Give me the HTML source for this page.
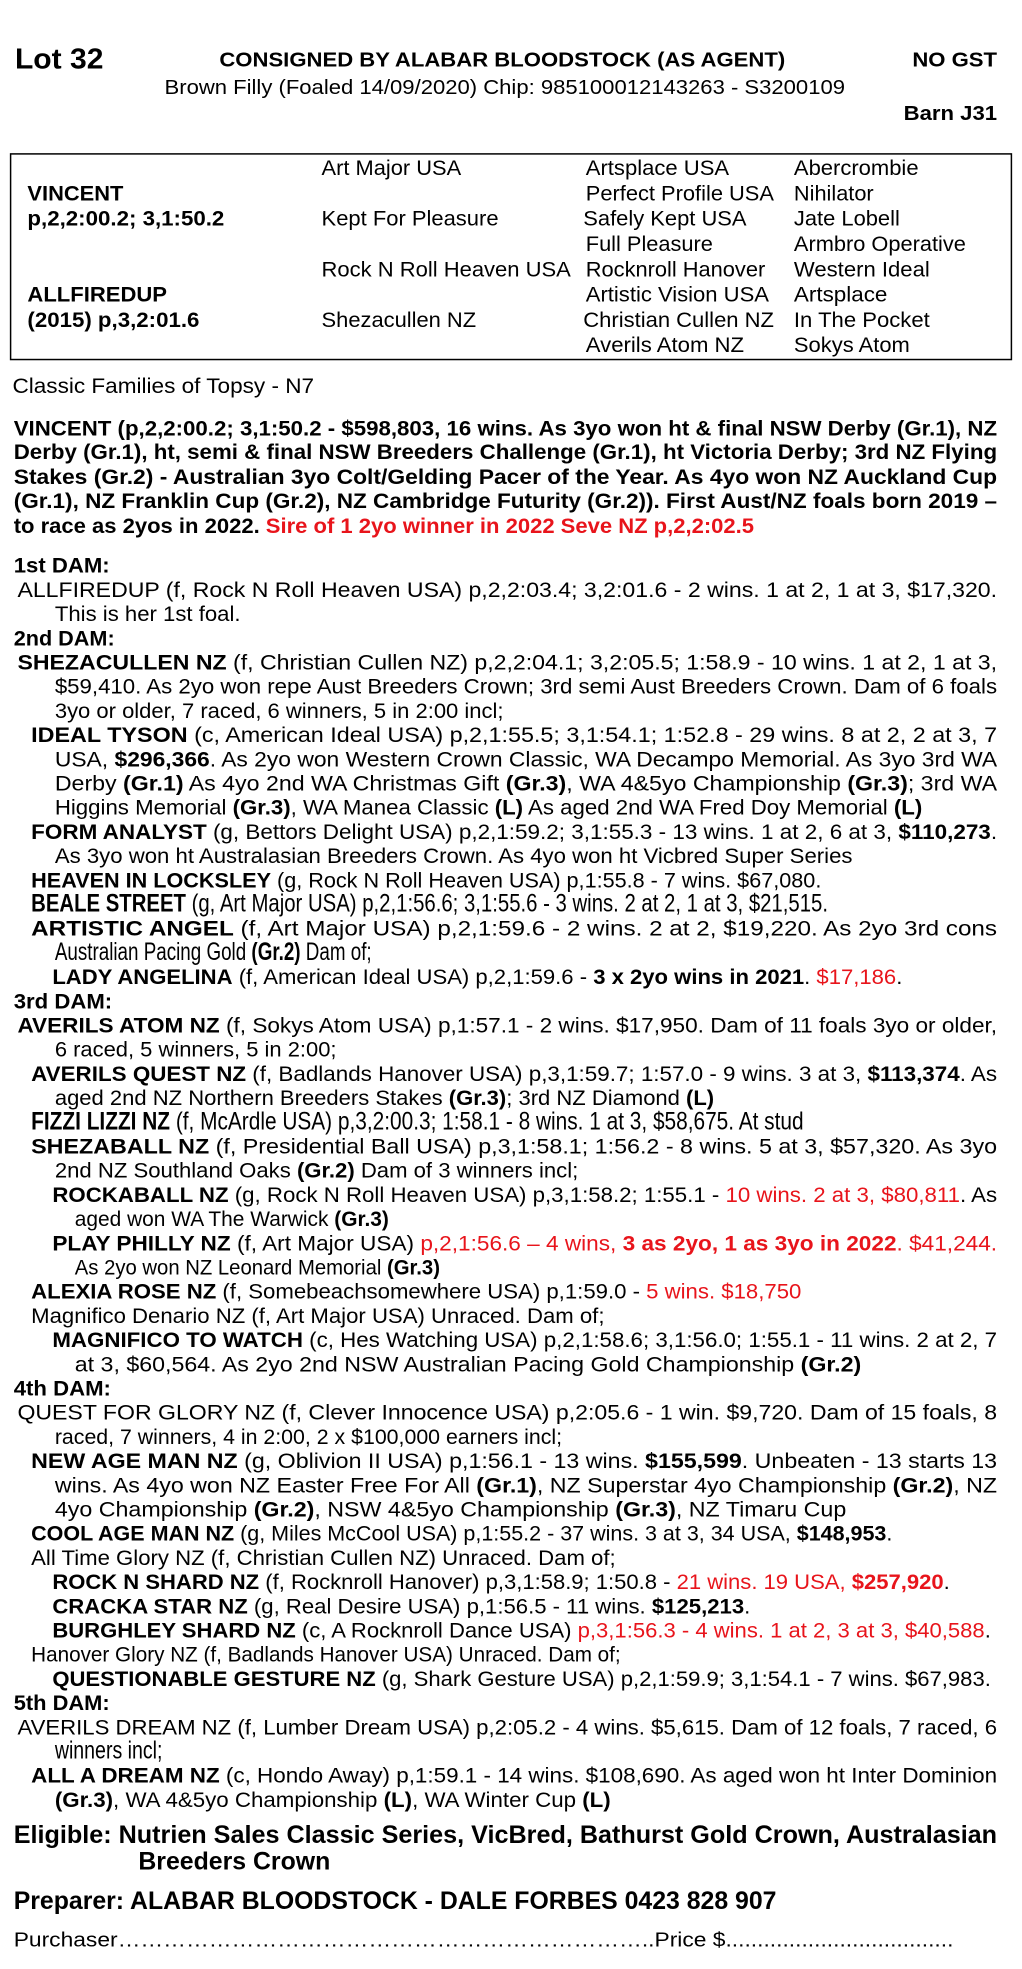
<!DOCTYPE html>
<html><head><meta charset="utf-8">
<style>
html,body{margin:0;padding:0;background:#fff;}
svg{display:block;}
text{font-family:"Liberation Sans",Arial,sans-serif;font-size:17px;fill:#000;}
.b{font-weight:bold;}
.r{fill:#e8141b;}
.big{font-size:20.4px;}
</style></head>
<body>
<svg width="1022" height="1969" viewBox="0 0 820 1580" preserveAspectRatio="none" xmlns="http://www.w3.org/2000/svg">
<g>
<text x="12" y="55" class="b" style="font-size:23px" textLength="71" lengthAdjust="spacingAndGlyphs">Lot 32</text>
<text x="176" y="53.5" class="b" style="font-size:16.5px" textLength="454" lengthAdjust="spacingAndGlyphs">CONSIGNED BY ALABAR BLOODSTOCK (AS AGENT)</text>
<text x="732" y="53.5" class="b" style="font-size:16.5px" textLength="68" lengthAdjust="spacingAndGlyphs">NO GST</text>
<text x="132" y="75.5" style="font-size:16.5px" textLength="546" lengthAdjust="spacingAndGlyphs">Brown Filly (Foaled 14/09/2020) Chip: 985100012143263 - S3200109</text>
<text x="725" y="96.5" class="b" style="font-size:16.5px" textLength="75" lengthAdjust="spacingAndGlyphs">Barn J31</text>

<rect x="8.5" y="123.5" width="803" height="165" fill="none" stroke="#000" stroke-width="1.2"/>
<text x="258" y="140.5" textLength="112" lengthAdjust="spacingAndGlyphs">Art Major USA</text>
<text x="470" y="140.5" textLength="115" lengthAdjust="spacingAndGlyphs">Artsplace USA</text>
<text x="637" y="140.5" textLength="100" lengthAdjust="spacingAndGlyphs">Abercrombie</text>
<text x="22" y="160.8" class="b" textLength="77" lengthAdjust="spacingAndGlyphs">VINCENT</text>
<text x="470" y="160.8" textLength="151" lengthAdjust="spacingAndGlyphs">Perfect Profile USA</text>
<text x="637" y="160.8" textLength="64" lengthAdjust="spacingAndGlyphs">Nihilator</text>
<text x="22" y="181.1" class="b" textLength="158" lengthAdjust="spacingAndGlyphs">p,2,2:00.2; 3,1:50.2</text>
<text x="258" y="181.1" textLength="142" lengthAdjust="spacingAndGlyphs">Kept For Pleasure</text>
<text x="468" y="181.1" textLength="131" lengthAdjust="spacingAndGlyphs">Safely Kept USA</text>
<text x="637" y="181.1" textLength="85" lengthAdjust="spacingAndGlyphs">Jate Lobell</text>
<text x="470" y="201.4" textLength="102" lengthAdjust="spacingAndGlyphs">Full Pleasure</text>
<text x="637" y="201.4" textLength="138" lengthAdjust="spacingAndGlyphs">Armbro Operative</text>
<text x="258" y="221.7" textLength="200" lengthAdjust="spacingAndGlyphs">Rock N Roll Heaven USA</text>
<text x="470" y="221.7" textLength="144" lengthAdjust="spacingAndGlyphs">Rocknroll Hanover</text>
<text x="637" y="221.7" textLength="109" lengthAdjust="spacingAndGlyphs">Western Ideal</text>
<text x="22" y="242" class="b" textLength="112" lengthAdjust="spacingAndGlyphs">ALLFIREDUP</text>
<text x="470" y="242" textLength="147" lengthAdjust="spacingAndGlyphs">Artistic Vision USA</text>
<text x="637" y="242" textLength="75" lengthAdjust="spacingAndGlyphs">Artsplace</text>
<text x="22" y="262.3" class="b" textLength="138" lengthAdjust="spacingAndGlyphs">(2015) p,3,2:01.6</text>
<text x="258" y="262.3" textLength="124" lengthAdjust="spacingAndGlyphs">Shezacullen NZ</text>
<text x="468" y="262.3" textLength="153" lengthAdjust="spacingAndGlyphs">Christian Cullen NZ</text>
<text x="637" y="262.3" textLength="109" lengthAdjust="spacingAndGlyphs">In The Pocket</text>
<text x="470" y="282.6" textLength="127" lengthAdjust="spacingAndGlyphs">Averils Atom NZ</text>
<text x="637" y="282.6" textLength="93" lengthAdjust="spacingAndGlyphs">Sokys Atom</text>

<text x="10" y="315.5" textLength="242" lengthAdjust="spacingAndGlyphs">Classic Families of Topsy - N7</text>

<text x="11" y="349.5" class="b" textLength="789" lengthAdjust="spacingAndGlyphs">VINCENT (p,2,2:00.2; 3,1:50.2 - $598,803, 16 wins. As 3yo won ht &amp; final NSW Derby (Gr.1), NZ</text>
<text x="11" y="368.5" class="b" textLength="789" lengthAdjust="spacingAndGlyphs">Derby (Gr.1), ht, semi &amp; final NSW Breeders Challenge (Gr.1), ht Victoria Derby; 3rd NZ Flying</text>
<text x="11" y="388.5" class="b" textLength="789" lengthAdjust="spacingAndGlyphs">Stakes (Gr.2) - Australian 3yo Colt/Gelding Pacer of the Year. As 4yo won NZ Auckland Cup</text>
<text x="11" y="407.5" class="b" textLength="789" lengthAdjust="spacingAndGlyphs">(Gr.1), NZ Franklin Cup (Gr.2), NZ Cambridge Futurity (Gr.2)). First Aust/NZ foals born 2019 –</text>
<text x="11" y="427.5" class="b" textLength="594" lengthAdjust="spacingAndGlyphs">to race as 2yos in 2022. <tspan class="r">Sire of 1 2yo winner in 2022 Seve NZ p,2,2:02.5</tspan></text>

<text x="11" y="459.5" class="b" textLength="77" lengthAdjust="spacingAndGlyphs">1st DAM:</text>
<text x="14" y="478.9" textLength="786" lengthAdjust="spacingAndGlyphs">ALLFIREDUP (f, Rock N Roll Heaven USA) p,2,2:03.4; 3,2:01.6 - 2 wins. 1 at 2, 1 at 3, $17,320.</text>
<text x="44" y="498.3" textLength="149" lengthAdjust="spacingAndGlyphs">This is her 1st foal.</text>
<text x="11" y="517.8" class="b" textLength="81" lengthAdjust="spacingAndGlyphs">2nd DAM:</text>
<text x="14" y="537.2" textLength="786" lengthAdjust="spacingAndGlyphs"><tspan class="b">SHEZACULLEN NZ</tspan> (f, Christian Cullen NZ) p,2,2:04.1; 3,2:05.5; 1:58.9 - 10 wins. 1 at 2, 1 at 3,</text>
<text x="44" y="556.6" textLength="756" lengthAdjust="spacingAndGlyphs">$59,410. As 2yo won repe Aust Breeders Crown; 3rd semi Aust Breeders Crown. Dam of 6 foals</text>
<text x="44" y="576.0" textLength="360" lengthAdjust="spacingAndGlyphs">3yo or older, 7 raced, 6 winners, 5 in 2:00 incl;</text>
<text x="25" y="595.4" textLength="775" lengthAdjust="spacingAndGlyphs"><tspan class="b">IDEAL TYSON</tspan> (c, American Ideal USA) p,2,1:55.5; 3,1:54.1; 1:52.8 - 29 wins. 8 at 2, 2 at 3, 7</text>
<text x="44" y="614.9" textLength="756" lengthAdjust="spacingAndGlyphs">USA, <tspan class="b">$296,366</tspan>. As 2yo won Western Crown Classic, WA Decampo Memorial. As 3yo 3rd WA</text>
<text x="44" y="634.3" textLength="756" lengthAdjust="spacingAndGlyphs">Derby <tspan class="b">(Gr.1)</tspan> As 4yo 2nd WA Christmas Gift <tspan class="b">(Gr.3)</tspan>, WA 4&amp;5yo Championship <tspan class="b">(Gr.3)</tspan>; 3rd WA</text>
<text x="44" y="653.7" textLength="696" lengthAdjust="spacingAndGlyphs">Higgins Memorial <tspan class="b">(Gr.3)</tspan>, WA Manea Classic <tspan class="b">(L)</tspan> As aged 2nd WA Fred Doy Memorial <tspan class="b">(L)</tspan></text>
<text x="25" y="673.1" textLength="775" lengthAdjust="spacingAndGlyphs"><tspan class="b">FORM ANALYST</tspan> (g, Bettors Delight USA) p,2,1:59.2; 3,1:55.3 - 13 wins. 1 at 2, 6 at 3, <tspan class="b">$110,273</tspan>.</text>
<text x="44" y="692.5" textLength="640" lengthAdjust="spacingAndGlyphs">As 3yo won ht Australasian Breeders Crown. As 4yo won ht Vicbred Super Series</text>
<text x="25" y="712.0" textLength="634" lengthAdjust="spacingAndGlyphs"><tspan class="b">HEAVEN IN LOCKSLEY</tspan> (g, Rock N Roll Heaven USA) p,1:55.8 - 7 wins. $67,080.</text>
<text x="25" y="731.4" class="big" transform="translate(25,0) scale(0.80,1) translate(-25,0)"><tspan class="b">BEALE STREET</tspan> (g, Art Major USA) p,2,1:56.6; 3,1:55.6 - 3 wins. 2 at 2, 1 at 3, $21,515.</text>
<text x="25" y="750.8" textLength="775" lengthAdjust="spacingAndGlyphs"><tspan class="b">ARTISTIC ANGEL</tspan> (f, Art Major USA) p,2,1:59.6 - 2 wins. 2 at 2, $19,220. As 2yo 3rd cons</text>
<text x="44" y="770.2" class="big" transform="translate(44,0) scale(0.74,1) translate(-44,0)">Australian Pacing Gold <tspan class="b">(Gr.2)</tspan> Dam of;</text>
<text x="42" y="789.6" textLength="682" lengthAdjust="spacingAndGlyphs"><tspan class="b">LADY ANGELINA</tspan> (f, American Ideal USA) p,2,1:59.6 - <tspan class="b">3 x 2yo wins in 2021</tspan>. <tspan class="r">$17,186</tspan>.</text>
<text x="11" y="809.1" class="b" textLength="79" lengthAdjust="spacingAndGlyphs">3rd DAM:</text>
<text x="14" y="828.5" textLength="786" lengthAdjust="spacingAndGlyphs"><tspan class="b">AVERILS ATOM NZ</tspan> (f, Sokys Atom USA) p,1:57.1 - 2 wins. $17,950. Dam of 11 foals 3yo or older,</text>
<text x="44" y="847.9" textLength="226" lengthAdjust="spacingAndGlyphs">6 raced, 5 winners, 5 in 2:00;</text>
<text x="25" y="867.3" textLength="775" lengthAdjust="spacingAndGlyphs"><tspan class="b">AVERILS QUEST NZ</tspan> (f, Badlands Hanover USA) p,3,1:59.7; 1:57.0 - 9 wins. 3 at 3, <tspan class="b">$113,374</tspan>. As</text>
<text x="44" y="886.7" textLength="529" lengthAdjust="spacingAndGlyphs">aged 2nd NZ Northern Breeders Stakes <tspan class="b">(Gr.3)</tspan>; 3rd NZ Diamond <tspan class="b">(L)</tspan></text>
<text x="25" y="906.2" class="big" transform="translate(25,0) scale(0.82,1) translate(-25,0)"><tspan class="b">FIZZI LIZZI NZ</tspan> (f, McArdle USA) p,3,2:00.3; 1:58.1 - 8 wins. 1 at 3, $58,675. At stud</text>
<text x="25" y="925.6" textLength="775" lengthAdjust="spacingAndGlyphs"><tspan class="b">SHEZABALL NZ</tspan> (f, Presidential Ball USA) p,3,1:58.1; 1:56.2 - 8 wins. 5 at 3,  $57,320. As 3yo</text>
<text x="44" y="945.0" textLength="420" lengthAdjust="spacingAndGlyphs">2nd NZ Southland Oaks <tspan class="b">(Gr.2)</tspan> Dam of 3 winners incl;</text>
<text x="42" y="964.4" textLength="758" lengthAdjust="spacingAndGlyphs"><tspan class="b">ROCKABALL NZ</tspan> (g, Rock N Roll Heaven USA) p,3,1:58.2; 1:55.1 - <tspan class="r">10 wins. 2 at 3, $80,811</tspan>. As</text>
<text x="60" y="983.8" textLength="252" lengthAdjust="spacingAndGlyphs">aged won WA The Warwick <tspan class="b">(Gr.3)</tspan></text>
<text x="42" y="1003.3" textLength="758" lengthAdjust="spacingAndGlyphs"><tspan class="b">PLAY PHILLY NZ</tspan> (f, Art Major USA) <tspan class="r">p,2,1:56.6 – 4 wins, </tspan><tspan class="r b">3 as 2yo, 1 as 3yo in 2022</tspan><tspan class="r">. $41,244.</tspan></text>
<text x="60" y="1022.7" textLength="293" lengthAdjust="spacingAndGlyphs">As 2yo won NZ Leonard Memorial <tspan class="b">(Gr.3)</tspan></text>
<text x="25" y="1042.1" textLength="618" lengthAdjust="spacingAndGlyphs"><tspan class="b">ALEXIA ROSE NZ</tspan> (f, Somebeachsomewhere USA) p,1:59.0 - <tspan class="r">5 wins. $18,750</tspan></text>
<text x="25" y="1061.5" textLength="460" lengthAdjust="spacingAndGlyphs">Magnifico Denario NZ (f, Art Major USA) Unraced. Dam of;</text>
<text x="42" y="1080.9" textLength="758" lengthAdjust="spacingAndGlyphs"><tspan class="b">MAGNIFICO TO WATCH</tspan> (c, Hes Watching USA) p,2,1:58.6; 3,1:56.0; 1:55.1 - 11 wins. 2 at 2, 7</text>
<text x="60" y="1100.4" textLength="631" lengthAdjust="spacingAndGlyphs">at 3, $60,564. As 2yo 2nd NSW Australian Pacing Gold Championship <tspan class="b">(Gr.2)</tspan></text>
<text x="11" y="1119.8" class="b" textLength="78" lengthAdjust="spacingAndGlyphs">4th DAM:</text>
<text x="14" y="1139.2" textLength="786" lengthAdjust="spacingAndGlyphs">QUEST FOR GLORY NZ (f, Clever Innocence USA) p,2:05.6 - 1 win. $9,720. Dam of 15 foals, 8</text>
<text x="44" y="1158.6" textLength="407" lengthAdjust="spacingAndGlyphs">raced, 7 winners, 4 in 2:00, 2 x $100,000 earners incl;</text>
<text x="25" y="1178.0" textLength="775" lengthAdjust="spacingAndGlyphs"><tspan class="b">NEW AGE MAN NZ</tspan> (g, Oblivion II USA) p,1:56.1 - 13 wins. <tspan class="b">$155,599</tspan>. Unbeaten - 13 starts 13</text>
<text x="44" y="1197.5" textLength="756" lengthAdjust="spacingAndGlyphs">wins. As 4yo won NZ Easter Free For All <tspan class="b">(Gr.1)</tspan>, NZ Superstar 4yo Championship <tspan class="b">(Gr.2)</tspan>, NZ</text>
<text x="44" y="1216.9" textLength="635" lengthAdjust="spacingAndGlyphs">4yo Championship <tspan class="b">(Gr.2)</tspan>, NSW 4&amp;5yo Championship <tspan class="b">(Gr.3)</tspan>, NZ Timaru Cup</text>
<text x="25" y="1236.3" textLength="691" lengthAdjust="spacingAndGlyphs"><tspan class="b">COOL AGE MAN NZ</tspan> (g, Miles McCool USA) p,1:55.2 - 37 wins. 3 at 3, 34 USA, <tspan class="b">$148,953</tspan>.</text>
<text x="25" y="1255.7" textLength="469" lengthAdjust="spacingAndGlyphs">All Time Glory NZ (f, Christian Cullen NZ) Unraced. Dam of;</text>
<text x="42" y="1275.1" textLength="720" lengthAdjust="spacingAndGlyphs"><tspan class="b">ROCK N SHARD NZ</tspan> (f, Rocknroll Hanover) p,3,1:58.9; 1:50.8 - <tspan class="r">21 wins. 19 USA, </tspan><tspan class="r b">$257,920</tspan>.</text>
<text x="42" y="1294.6" textLength="560" lengthAdjust="spacingAndGlyphs"><tspan class="b">CRACKA STAR NZ</tspan> (g, Real Desire USA) p,1:56.5 - 11 wins. <tspan class="b">$125,213</tspan>.</text>
<text x="42" y="1314.0" textLength="753" lengthAdjust="spacingAndGlyphs"><tspan class="b">BURGHLEY SHARD NZ</tspan> (c, A Rocknroll Dance USA) <tspan class="r">p,3,1:56.3 - 4 wins. 1 at 2, 3 at 3, $40,588</tspan>.</text>
<text x="25" y="1333.4" textLength="473" lengthAdjust="spacingAndGlyphs">Hanover Glory NZ (f, Badlands Hanover USA) Unraced. Dam of;</text>
<text x="42" y="1352.8" textLength="753" lengthAdjust="spacingAndGlyphs"><tspan class="b">QUESTIONABLE GESTURE NZ</tspan> (g, Shark Gesture USA) p,2,1:59.9; 3,1:54.1 - 7 wins. $67,983.</text>
<text x="11" y="1372.2" class="b" textLength="77" lengthAdjust="spacingAndGlyphs">5th DAM:</text>
<text x="14" y="1391.7" textLength="786" lengthAdjust="spacingAndGlyphs">AVERILS DREAM NZ (f, Lumber Dream USA) p,2:05.2 - 4 wins. $5,615. Dam of 12 foals, 7 raced, 6</text>
<text x="44" y="1411.1" class="big" transform="translate(44,0) scale(0.77,1) translate(-44,0)">winners incl;</text>
<text x="25" y="1430.5" textLength="775" lengthAdjust="spacingAndGlyphs"><tspan class="b">ALL A DREAM NZ</tspan> (c, Hondo Away) p,1:59.1 - 14 wins. $108,690. As aged won ht Inter Dominion</text>
<text x="44" y="1449.9" textLength="446" lengthAdjust="spacingAndGlyphs"><tspan class="b">(Gr.3)</tspan>, WA 4&amp;5yo Championship <tspan class="b">(L)</tspan>, WA Winter Cup <tspan class="b">(L)</tspan></text>

<text x="11" y="1479" class="b" style="font-size:20px" textLength="789" lengthAdjust="spacingAndGlyphs">Eligible: Nutrien Sales Classic Series, VicBred, Bathurst Gold Crown, Australasian</text>
<text x="111" y="1500" class="b" style="font-size:20px" textLength="154" lengthAdjust="spacingAndGlyphs">Breeders Crown</text>
<text x="11" y="1532" class="b" style="font-size:20px" textLength="612" lengthAdjust="spacingAndGlyphs">Preparer: ALABAR BLOODSTOCK - DALE FORBES 0423 828 907</text>
<text x="11" y="1562" style="font-size:16.5px" textLength="754" lengthAdjust="spacingAndGlyphs">Purchaser……………………………………………………………..Price $....................................</text>
</g>
</svg>
</body></html>
